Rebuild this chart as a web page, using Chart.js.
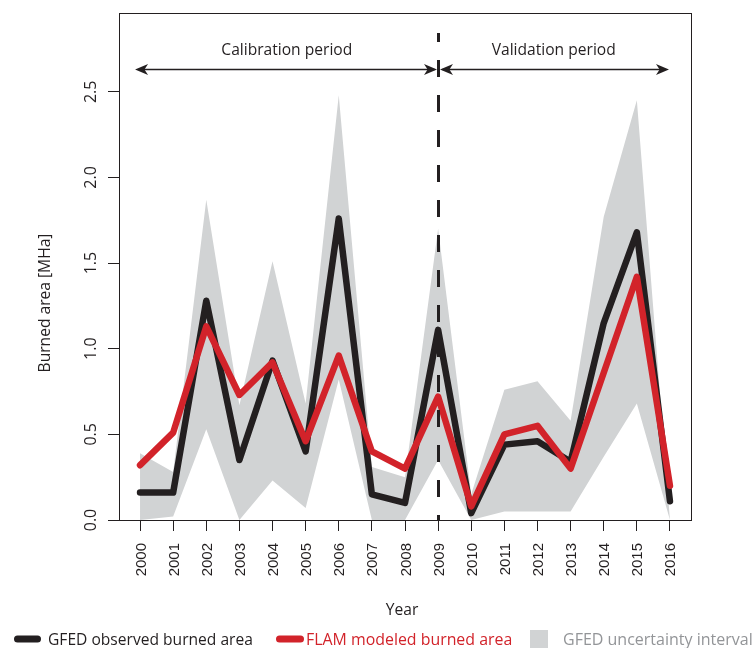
<!DOCTYPE html>
<html>
<head>
<meta charset="utf-8">
<script src="https://cdn.jsdelivr.net/npm/chart.js@4.4.0/dist/chart.umd.min.js"></script>
<style>
  html, body { margin: 0; padding: 0; background: #ffffff; }
  #wrap { width: 754px; height: 648px; position: relative; }
</style>
</head>
<body>
<div id="wrap"><canvas id="chart"></canvas></div>
<script>
// ---- data -------------------------------------------------------------
const years = [2000, 2001, 2002, 2003, 2004, 2005, 2006, 2007, 2008,
               2009, 2010, 2011, 2012, 2013, 2014, 2015, 2016];

// GFED observed burned area [MHa]
const gfedObserved = [0.16, 0.16, 1.28, 0.35, 0.93, 0.40, 1.76, 0.15, 0.10,
                      1.11, 0.04, 0.44, 0.46, 0.34, 1.15, 1.68, 0.11];

// FLAM modeled burned area [MHa]
const flamModeled = [0.32, 0.51, 1.13, 0.73, 0.92, 0.46, 0.96, 0.40, 0.30,
                     0.72, 0.08, 0.50, 0.55, 0.30, 0.86, 1.42, 0.20];

// GFED uncertainty interval, lower and upper bounds [MHa]
const gfedLow  = [0.00, 0.02, 0.53, 0.00, 0.23, 0.07, 0.82, 0.00, 0.00,
                  0.35, 0.00, 0.05, 0.05, 0.05, 0.37, 0.68, 0.00];
const gfedHigh = [0.39, 0.28, 1.87, 0.67, 1.51, 0.68, 2.48, 0.31, 0.25,
                  1.70, 0.15, 0.76, 0.81, 0.58, 1.77, 2.45, 0.00];

const yTicks = [0, 0.5, 1.0, 1.5, 2.0, 2.5];
const yTickLabels = ['0.0', '0.5', '1.0', '1.5', '2.0', '2.5'];
const xTickLabels = years.map(String);

const splitYear = 2009;
const periodLabels = ['Calibration period', 'Validation period'];
const legendLabels = ['GFED observed burned area', 'FLAM modeled burned area', 'GFED uncertainty interval'];
const xTitle = 'Year';
const yTitle = 'Burned area [MHa]';

// ---- styling ----------------------------------------------------------
const INK = '#231F20';
const RED = '#D2232A';
const BAND = '#D1D3D4';
const GREY_TEXT = '#939598';
const SANS = '"Open Sans", "Noto Sans", sans-serif';
const TICK_SANS = '"Liberation Sans", Arial, sans-serif';

const pts = arr => arr.map((v, i) => ({ x: years[i], y: v }));

// Custom decorations: frame, period arrows, split line, tick labels, titles, legend
const decorations = {
  id: 'decorations',
  afterDatasetsDraw(chart) {
    const { ctx, chartArea: a, scales: { x } } = chart;
    ctx.save();

    // dashed split line between calibration and validation periods
    const xs = Math.round(x.getPixelForValue(splitYear)) + 0.5;
    ctx.strokeStyle = INK;
    ctx.lineWidth = 3;
    ctx.setLineDash([17, 18]);
    ctx.lineDashOffset = 8;
    ctx.beginPath();
    ctx.moveTo(xs, 33);
    ctx.lineTo(xs, a.bottom);
    ctx.stroke();
    ctx.setLineDash([]);

    // period arrows
    const ay = 69.5;
    const xl = x.getPixelForValue(1999.85);
    const xr = x.getPixelForValue(2015.97);
    ctx.lineWidth = 1.3;
    ctx.beginPath();
    ctx.moveTo(xl + 4, ay); ctx.lineTo(xs - 4, ay);
    ctx.moveTo(xs + 4, ay); ctx.lineTo(xr - 4, ay);
    ctx.stroke();
    const head = (tip, dir) => {
      const L = 13, W = 5.5;
      ctx.beginPath();
      ctx.moveTo(tip, ay);
      ctx.lineTo(tip - dir * L, ay - W);
      ctx.lineTo(tip - dir * L * 0.72, ay);
      ctx.lineTo(tip - dir * L, ay + W);
      ctx.closePath();
      ctx.fillStyle = INK;
      ctx.fill();
    };
    head(xl, -1);
    head(xs - 1.5, 1);
    head(xs + 1.5, -1);
    head(xr, 1);

    // period captions
    ctx.fillStyle = INK;
    ctx.font = '15.6px ' + SANS;
    ctx.textAlign = 'center';
    ctx.textBaseline = 'alphabetic';
    ctx.fillText(periodLabels[0], (xl + xs) / 2, 55);
    ctx.fillText(periodLabels[1], (xs + xr) / 2, 55);
    ctx.restore();
  },
  afterDraw(chart) {
    const { ctx, chartArea: a, scales: { x, y } } = chart;
    ctx.save();

    // plot frame
    ctx.strokeStyle = INK;
    ctx.lineWidth = 1;
    ctx.strokeRect(Math.round(a.left) + 0.5, Math.round(a.top) + 0.5,
                   Math.round(a.right - a.left), Math.round(a.bottom - a.top));

    ctx.fillStyle = INK;
    // x tick labels, vertical
    ctx.font = '15px ' + TICK_SANS;
    ctx.textAlign = 'right';
    ctx.textBaseline = 'alphabetic';
    years.forEach((yr, i) => {
      const px = x.getPixelForValue(yr);
      ctx.save();
      ctx.translate(px + 5.5, a.bottom + 23);
      ctx.rotate(-Math.PI / 2);
      ctx.fillText(xTickLabels[i], 0, 0);
      ctx.restore();
    });

    // y tick labels, vertical
    ctx.font = '16px ' + SANS;
    ctx.textAlign = 'center';
    yTicks.forEach((v, i) => {
      const py = y.getPixelForValue(v);
      ctx.save();
      ctx.translate(95.5, py);
      ctx.rotate(-Math.PI / 2);
      ctx.fillText(yTickLabels[i], 0, 0);
      ctx.restore();
    });

    // axis titles
    ctx.font = '15.6px ' + SANS;
    ctx.save();
    ctx.translate(50, 303);
    ctx.rotate(-Math.PI / 2);
    ctx.fillText(yTitle, 0, 0);
    ctx.restore();
    ctx.fillText(xTitle, 402, 615);

    // legend
    const ly = 639;
    ctx.lineCap = 'round';
    ctx.lineWidth = 7;
    ctx.strokeStyle = INK;
    ctx.beginPath(); ctx.moveTo(17.5, ly); ctx.lineTo(37.5, ly); ctx.stroke();
    ctx.strokeStyle = RED;
    ctx.beginPath(); ctx.moveTo(279.5, ly); ctx.lineTo(300.5, ly); ctx.stroke();
    ctx.fillStyle = BAND;
    ctx.fillRect(530, ly - 9, 18, 18);

    ctx.textAlign = 'left';
    ctx.fillStyle = INK;
    ctx.fillText(legendLabels[0], 48, 645);
    ctx.font = '15.9px ' + SANS;
    ctx.fillStyle = RED;
    ctx.fillText(legendLabels[1], 306, 645);
    ctx.font = '16px ' + SANS;
    ctx.fillStyle = GREY_TEXT;
    ctx.fillText(legendLabels[2], 563, 645);
    ctx.restore();
  }
};

new Chart(document.getElementById('chart'), {
  type: 'line',
  data: {
    datasets: [
      { label: 'lower', data: pts(gfedLow), borderWidth: 0, borderColor: 'rgba(0,0,0,0)',
        pointRadius: 0, fill: false, order: 4 },
      { label: legendLabels[2], data: pts(gfedHigh), borderWidth: 0, borderColor: 'rgba(0,0,0,0)',
        backgroundColor: BAND, pointRadius: 0, fill: '-1', order: 3 },
      { label: legendLabels[0], data: pts(gfedObserved), borderColor: INK, borderWidth: 6.5,
        pointRadius: 0, borderCapStyle: 'round', borderJoinStyle: 'round', fill: false, order: 2, clip: false },
      { label: legendLabels[1], data: pts(flamModeled), borderColor: RED, borderWidth: 6.5,
        pointRadius: 0, borderCapStyle: 'round', borderJoinStyle: 'round', fill: false, order: 1, clip: false }
    ]
  },
  options: {
    responsive: true,
    maintainAspectRatio: false,
    animation: false,
    devicePixelRatio: 1,
    layout: { padding: { left: 0, top: 13, right: 63, bottom: 0 } },
    plugins: { legend: { display: false }, tooltip: { enabled: false }, title: { display: false } },
    elements: { line: { tension: 0 } },
    scales: {
      x: {
        type: 'linear',
        min: 1999.365,
        max: 2016.635,
        afterBuildTicks: s => { s.ticks = years.map(v => ({ value: v })); },
        afterFit: s => { s.height = 128; },
        ticks: { display: false },
        grid: { drawOnChartArea: false, drawTicks: true, tickLength: 11, color: INK, lineWidth: 1 },
        border: { display: true, color: INK, width: 1 }
      },
      y: {
        min: 0,
        max: 2.96,
        afterBuildTicks: s => { s.ticks = yTicks.map(v => ({ value: v })); },
        afterFit: s => { s.width = 119; },
        ticks: { display: false },
        grid: { drawOnChartArea: false, drawTicks: true, tickLength: 11, color: INK, lineWidth: 1 },
        border: { display: true, color: INK, width: 1 }
      }
    }
  },
  plugins: [decorations]
});
</script>
</body>
</html>
